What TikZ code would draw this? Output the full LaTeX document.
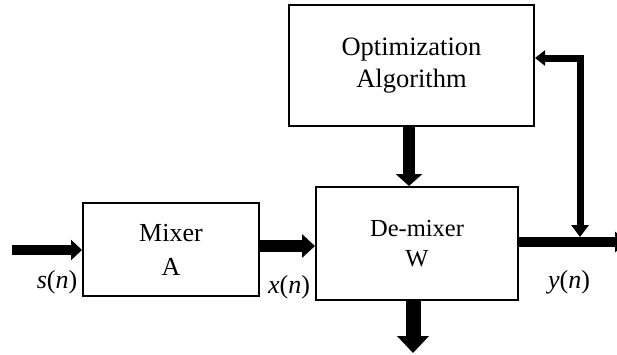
\documentclass[tikz,border=0pt]{standalone}
\usepackage{fontspec}
\setmainfont{Liberation Serif}
\usetikzlibrary{arrows.meta}
\begin{document}
\begin{tikzpicture}[x=1pt,y=-1pt,
  blk/.style={draw,line width=2pt,align=center,inner sep=0pt},
  lbl/.style={anchor=base,inner sep=0pt,font=\fontsize{26}{30}\selectfont}]
\useasboundingbox (0,0) rectangle (617,354);
\clip (0,0) rectangle (617,354);
\node[blk,minimum width=245pt,minimum height=121pt,font=\fontsize{26.5}{32}\selectfont] (opt) at (411.5,65.5) {Optimization\\Algorithm};
\node[blk,minimum width=176pt,minimum height=93pt,font=\fontsize{26}{34}\selectfont] (mixer) at (171,249.5) {Mixer\\A};
\node[blk,minimum width=202pt,minimum height=113pt,font=\fontsize{24.5}{30}\selectfont] (demix) at (417,243.5) {De-mixer\\W};
\coordinate (in) at (12,250);
\coordinate (outend) at (628,242);
\coordinate (down) at (413,353);
\coordinate (tap) at (580,237);
% input
\draw[line width=10pt,-{Triangle[length=11pt,width=20pt]}] (in) -- (in -| mixer.west);
% mixer -> demixer
\draw[line width=12pt,-{Triangle[length=13pt,width=23pt]}] ([yshift=3.5pt]mixer.east) -- ([yshift=3.5pt]mixer.east -| demix.west);
% opt -> demixer
\draw[line width=12pt,-{Triangle[length=12pt,width=26pt]}] ([xshift=-2.5pt]opt.south) -- ([xshift=-2.5pt]opt.south |- demix.north);
% demixer down
\draw[line width=15pt,-{Triangle[length=17pt,width=31pt]}] ([xshift=-4pt]demix.south) -- (down);
% output
\draw[line width=10pt,-{Triangle[length=13pt,width=20pt]}] ([yshift=1.5pt]demix.east) -- (outend);
% feedback
\draw[line width=7pt,{Triangle[length=10pt,width=15pt]}-{Triangle[length=12pt,width=17pt]}] (opt.east |- 0,58) -| (tap);
% labels
\node[lbl] (sn) at (57,288) {\textit{s}(\textit{n})};
\node[lbl] (xn) at (289,293) {\textit{x}(\textit{n})};
\node[lbl] (yn) at (569,288) {\textit{y}(\textit{n})};
\end{tikzpicture}
\end{document}
